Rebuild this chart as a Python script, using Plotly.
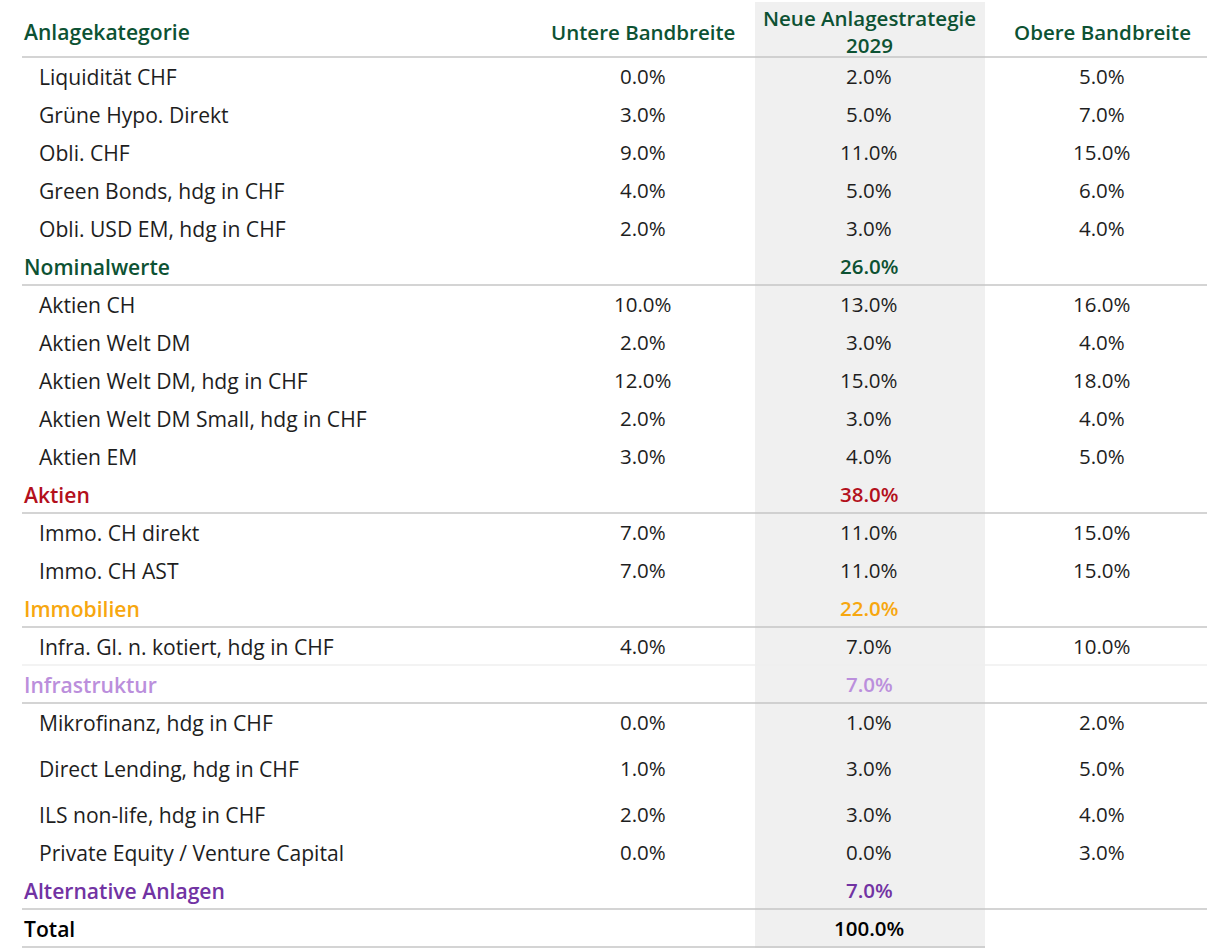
import plotly.graph_objects as go

# ---------------- data ----------------
header_labels = ["Anlagekategorie", "Untere Bandbreite", "Neue Anlagestrategie<br>2029", "Obere Bandbreite"]

row_labels = [
    "Liquidität CHF", "Grüne Hypo. Direkt", "Obli. CHF", "Green Bonds, hdg in CHF",
    "Obli. USD EM, hdg in CHF", "Nominalwerte",
    "Aktien CH", "Aktien Welt DM", "Aktien Welt DM, hdg in CHF",
    "Aktien Welt DM Small, hdg in CHF", "Aktien EM", "Aktien",
    "Immo. CH direkt", "Immo. CH AST", "Immobilien",
    "Infra. Gl. n. kotiert, hdg in CHF", "Infrastruktur",
    "Mikrofinanz, hdg in CHF", "Direct Lending, hdg in CHF", "ILS non-life, hdg in CHF",
    "Private Equity / Venture Capital", "Alternative Anlagen",
    "Total",
]
row_kind = ["item"] * 5 + ["group"] + ["item"] * 5 + ["group"] + ["item"] * 2 + ["group"] \
    + ["item"] + ["group"] + ["item"] * 4 + ["group"] + ["total"]

untere = [0.0, 3.0, 9.0, 4.0, 2.0, None,
          10.0, 2.0, 12.0, 2.0, 3.0, None,
          7.0, 7.0, None,
          4.0, None,
          0.0, 1.0, 2.0, 0.0, None,
          None]
neue = [2.0, 5.0, 11.0, 5.0, 3.0, 26.0,
        13.0, 3.0, 15.0, 3.0, 4.0, 38.0,
        11.0, 11.0, 22.0,
        7.0, 7.0,
        1.0, 3.0, 3.0, 0.0, 7.0,
        100.0]
obere = [5.0, 7.0, 15.0, 6.0, 4.0, None,
         16.0, 4.0, 18.0, 4.0, 5.0, None,
         15.0, 15.0, None,
         10.0, None,
         2.0, 5.0, 4.0, 3.0, None,
         None]

# ---------------- styles / layout ----------------
W, H = 1207, 948
FONT = "Open Sans"
FS = 20.5        # values / centred headers
FS_LABEL = 21.1  # left-hand labels
GREEN = "#0d5233"
TEXT = "#1e1e1e"
group_colors = {
    "Nominalwerte": "#0d5233",
    "Aktien": "#b3101c",
    "Immobilien": "#f7a70f",
    "Infrastruktur": "#bb8fdc",
    "Alternative Anlagen": "#7233a3",
    "Total": "#000000",
}
col_x = [None, 643, 869, 1102]
label_x_item = 37
label_x_group = 22
table_top = 57
base_h = 38
row_h = [54 if lab == "Direct Lending, hdg in CHF" else base_h for lab in row_labels]
grey_x0, grey_x1 = 755, 985
line_color = "#c6c6c6"

# row centers / boundaries
tops = []
acc = table_top
for h in row_h:
    tops.append(acc)
    acc += h
centers = [t + h / 2 for t, h in zip(tops, row_h)]
bottoms = [t + h for t, h in zip(tops, row_h)]

fig = go.Figure()
# invisible trace to establish axes
fig.add_trace(go.Scatter(x=[0, W], y=[0, H], mode="markers", marker=dict(opacity=0), hoverinfo="skip", showlegend=False))

shapes = []
# grey highlight column
shapes.append(dict(type="rect", xref="x", yref="y", x0=grey_x0, x1=grey_x1, y0=2, y1=H,
                   fillcolor="#f0f0f0", line=dict(width=0), layer="below"))
# header line
shapes.append(dict(type="line", xref="x", yref="y", x0=22, x1=W, y0=table_top, y1=table_top,
                   line=dict(color=line_color, width=1.3)))

annotations = []
def fmt(v):
    return f"{v:.1f}%"

# header
header_y = table_top / 2 + 3
annotations.append(dict(x=label_x_group, y=header_y, text=header_labels[0], xanchor="left", yanchor="middle",
                        font=dict(family=FONT, size=FS_LABEL, color=GREEN, weight=600)))
for i in (1, 2, 3):
    annotations.append(dict(x=col_x[i], y=header_y, text=header_labels[i], xanchor="center", yanchor="middle",
                            font=dict(family=FONT, size=FS, color=GREEN, weight=600)))

for i, lab in enumerate(row_labels):
    kind = row_kind[i]
    yc = centers[i]
    if kind == "item":
        color, weight, lx = TEXT, 400, label_x_item
    else:
        color, weight, lx = group_colors[lab], 600, label_x_group
    annotations.append(dict(x=lx, y=yc, text=lab, xanchor="left", yanchor="middle",
                            font=dict(family=FONT, size=FS_LABEL, color=color, weight=weight)))
    for cx, arr in ((col_x[1], untere), (col_x[2], neue), (col_x[3], obere)):
        v = arr[i]
        if v is None:
            continue
        annotations.append(dict(x=cx, y=yc, text=fmt(v), xanchor="center", yanchor="middle",
                                font=dict(family=FONT, size=FS, color=color, weight=weight)))
    # separator lines
    if kind == "group":
        shapes.append(dict(type="line", xref="x", yref="y", x0=22, x1=W, y0=bottoms[i], y1=bottoms[i],
                           line=dict(color=line_color, width=1.3)))
    elif kind == "total":
        shapes.append(dict(type="line", xref="x", yref="y", x0=22, x1=grey_x1, y0=bottoms[i], y1=bottoms[i],
                           line=dict(color=line_color, width=1.3)))
    elif i + 1 < len(row_kind) and row_kind[i + 1] == "group" and (i == 0 or row_kind[i - 1] == "group"):
        # single item block: faint divider
        shapes.append(dict(type="line", xref="x", yref="y", x0=22, x1=W, y0=bottoms[i], y1=bottoms[i],
                           line=dict(color="#efefef", width=1.3)))

for a in annotations:
    a.update(xref="x", yref="y", showarrow=False)

fig.update_layout(
    width=W, height=H,
    margin=dict(l=0, r=0, t=0, b=0),
    paper_bgcolor="white", plot_bgcolor="white",
    xaxis=dict(range=[0, W], visible=False, fixedrange=True),
    yaxis=dict(range=[H, 0], visible=False, fixedrange=True),
    shapes=shapes, annotations=annotations,
    showlegend=False,
)

fig.write_html("out.html", config={"displayModeBar": False},
               post_script="document.body.style.margin='0';document.body.style.overflow='hidden';")
